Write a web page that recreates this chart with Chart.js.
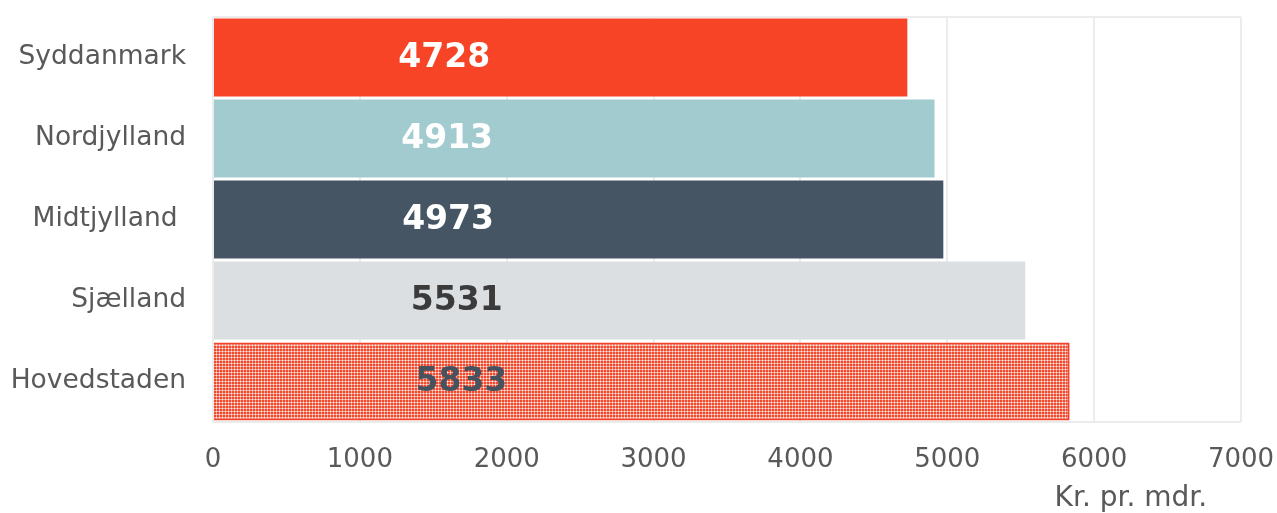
<!DOCTYPE html>
<html>
<head>
<meta charset="utf-8">
<script src="https://cdn.jsdelivr.net/npm/chart.js@4.4.1/dist/chart.umd.min.js"></script>
<style>
html,body{margin:0;padding:0;background:#fff;}
#wrap{width:1277px;height:513px;position:relative;}
</style>
</head>
<body>
<div id="wrap"><canvas id="c" width="1277" height="513"></canvas></div>
<script>
const categories = ["Syddanmark", "Nordjylland", "Midtjylland ", "Sjælland", "Hovedstaden"];
const values = [4728, 4913, 4973, 5531, 5833];
const xTicks = [0, 1000, 2000, 3000, 4000, 5000, 6000, 7000];
const axisTitle = "Kr. pr. mdr.";

const labelColors = ["#ffffff", "#ffffff", "#ffffff", "#3b3b3b", "#46525e"];

function makePattern() {
  const p = document.createElement('canvas');
  p.width = 3; p.height = 3;
  const g = p.getContext('2d');
  g.fillStyle = '#f4472b'; g.fillRect(0, 0, 3, 3);
  g.fillStyle = '#f8a595'; g.fillRect(0, 0, 3, 1); g.fillRect(0, 0, 1, 3);
  g.fillStyle = '#fde8e3'; g.fillRect(0, 0, 1, 1);
  return document.getElementById('c').getContext('2d').createPattern(p, 'repeat');
}
const bg = ["#f74326", "#a2cbd0", "#465564", "#dcdfe2", makePattern()];
const borders = ["#f74326", "#a2cbd0", "#465564", "#dcdfe2", "#f2402a"];
const borderW = [0, 0, 0, 0, 2];

const valueLabels = {
  id: 'valueLabels',
  afterDatasetsDraw(chart) {
    const ctx = chart.ctx;
    const meta = chart.getDatasetMeta(0);
    const xs = chart.scales.x;
    ctx.save();
    ctx.font = 'bold 33px "DejaVu Sans"';
    ctx.textAlign = 'center';
    ctx.textBaseline = 'middle';
    meta.data.forEach((bar, i) => {
      const v = values[i];
      const x = xs.getPixelForValue(1076 + 0.1055 * v);
      ctx.fillStyle = labelColors[i];
      ctx.fillText(String(v), x, bar.y + 1);
    });
    ctx.restore();
  }
};

const titlePlugin = {
  id: 'titlePlugin',
  afterDraw(chart) {
    const ctx = chart.ctx;
    const xs = chart.scales.x;
    ctx.save();
    ctx.font = '28px "DejaVu Sans"';
    ctx.fillStyle = '#595959';
    ctx.textAlign = 'center';
    ctx.textBaseline = 'middle';
    ctx.fillText(axisTitle, xs.getPixelForValue(6250), 499);
    ctx.restore();
  }
};

const edgeOnly = (c) => (c.index === 0 || c.index === undefined) ? '#ececec' : 'rgba(0,0,0,0)';

new Chart(document.getElementById('c'), {
  type: 'bar',
  data: {
    labels: categories,
    datasets: [{
      data: values,
      backgroundColor: bg,
      borderColor: borders,
      borderWidth: borderW,
      barPercentage: 0.965,
      categoryPercentage: 1.0
    }]
  },
  options: {
    indexAxis: 'y',
    responsive: false,
    animation: false,
    layout: { padding: { top: 17, right: 36, left: 0, bottom: 0 } },
    plugins: { legend: { display: false }, tooltip: { enabled: false } },
    scales: {
      x: {
        min: 0, max: 7000,
        afterBuildTicks: (s) => { s.ticks = xTicks.map(v => ({ value: v })); },
        afterFit: (s) => { s.height = 91; s.paddingLeft = 0; s.paddingRight = 0; },
        grid: { color: '#ececec', lineWidth: 2, drawTicks: false },
        border: { display: false },
        ticks: { color: '#595959', font: { family: 'DejaVu Sans', size: 26 }, padding: 23,
                 callback: (v) => String(v) }
      },
      y: {
        afterFit: (s) => { s.width = 213; s.paddingTop = 0; s.paddingBottom = 0; },
        grid: { color: edgeOnly, lineWidth: 2, drawTicks: false, offset: true },
        border: { display: false },
        ticks: { color: '#595959', font: { family: 'DejaVu Sans', size: 26.5 }, padding: 27 }
      }
    }
  },
  plugins: [valueLabels, titlePlugin]
});
</script>
</body>
</html>
